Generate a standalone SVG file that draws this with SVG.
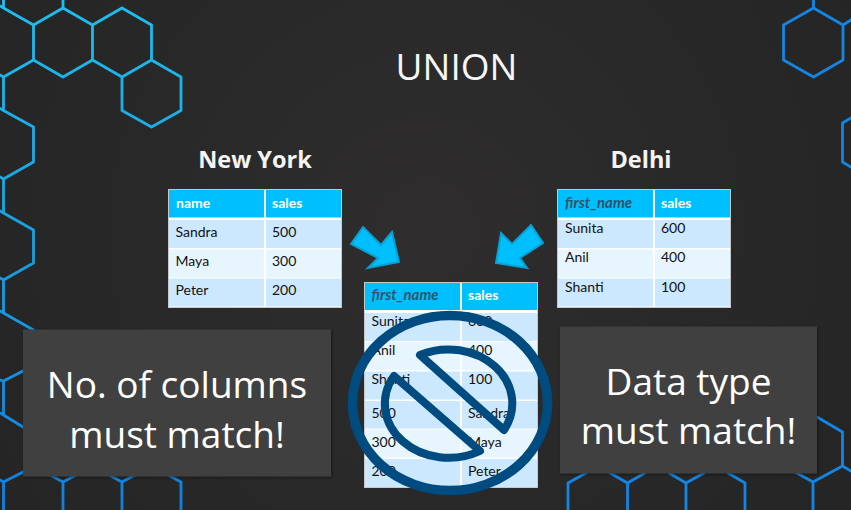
<svg xmlns="http://www.w3.org/2000/svg" width="851" height="510" viewBox="0 0 851 510">
<style>
text{font-family:"Lato","Open Sans","Liberation Sans",sans-serif}
.hex{fill:none;stroke-width:2.800;stroke-linejoin:round;stroke-linecap:round}
.head{fill:#00bfff}.a{fill:#cce8ff}.b{fill:#e7f5ff}
.frame{fill:#fff;stroke:#c8c8c8;stroke-width:1}
.h{font-size:14px;font-weight:700;fill:#fff}
.hi{font-size:15px;font-weight:700;font-style:italic;fill:#2f5468}
.c{font-size:14px;fill:#111}
.ttl{font-size:23.500px;font-weight:700;fill:#f4f4f4;text-anchor:middle;font-family:"Open Sans","Liberation Sans",sans-serif}
.big{font-size:37px;fill:#fff;text-anchor:middle;font-family:"Open Sans","Liberation Sans",sans-serif}
.arrow{fill:#00bfff;stroke:#0a9fd0;stroke-width:2;stroke-linejoin:miter}
.note{fill:#3f3f3f;filter:url(#sh)}
</style>
<defs>
<radialGradient id="bg" gradientUnits="userSpaceOnUse" cx="425" cy="230" r="500">
<stop offset="0" stop-color="#2f2d2d"/><stop offset="1" stop-color="#252525"/>
</radialGradient>
<linearGradient id="hexL" gradientUnits="userSpaceOnUse" x1="0" y1="0" x2="0" y2="510">
<stop offset="0" stop-color="#1fbdee"/><stop offset="0.5" stop-color="#189fdf"/><stop offset="1" stop-color="#127fe0"/>
</linearGradient>
<filter id="sh" x="-5%" y="-5%" width="110%" height="110%">
<feDropShadow dx="1" dy="1" stdDeviation="1.500" flood-color="#000" flood-opacity="0.45"/>
</filter>
</defs>
<rect width="851" height="510" fill="url(#bg)"/>
<g id="hexagons-left" class="hex" stroke="url(#hexL)">
<path d="M3.500,0V8L33.500,25L63,8V0M0,6L3.500,8M33.500,25V60L63,77L92.500,60V25L63,8L92.500,25L122,8L151.500,25V60L122,77V110.500L151.500,127L181,110.500V77L151.500,60L122,77L92.500,60M33.500,60L3.500,77V110.500L33.500,127V162L3.500,179V213L33.500,230V263L3.500,280V313L33.500,330M0,75L3.500,77M0,108.500L3.500,110.500M0,177L3.500,179M0,211L3.500,213M0,278L3.500,280M0,311L3.500,313"/>
<path d="M23,371L3.500,381V415L23,427M23,472L3.500,482V510M0,380L3.500,381M0,413L3.500,415M0,480L3.500,482M50,475L63,482V510M63,482L76,475M109,475L122,482V510M122,482L135,475M168,475L181,482V510"/>
</g>
<g id="hexagons-right" class="hex" stroke="#1485e2">
<path d="M813.500,0V8L843,25V60L813.500,77L783.500,60V25L813.500,8M843,25L851,20M851,118L842.500,123V162L851,167"/>
<path d="M586,473L568,483V510M610,473L627.500,483V510M627.500,483L645,473M669,473L686,483V510M686,483L704,473M728,473L745,483V510M795,472L813,482V510M813,482L842.500,466V432L817,417M842.500,466L851,471"/>
</g>
<g id="title"><text x="456.500" y="80" font-size="37" fill="#f6f6f6" text-anchor="middle" style="font-family:'Open Sans','Liberation Sans',sans-serif">UNION</text></g>
<g id="new-york">
<text class="ttl" x="255" y="168">New York</text>
<rect class="frame" x="168.500" y="189.500" width="173" height="118"/>
<rect class="head" x="169" y="190" width="95" height="27.500"/><rect class="head" x="266" y="190" width="75" height="27.500"/>
<rect class="a" x="169" y="220" width="95" height="28"/><rect class="a" x="266" y="220" width="75" height="28"/>
<rect class="b" x="169" y="249.500" width="95" height="28"/><rect class="b" x="266" y="249.500" width="75" height="28"/>
<rect class="a" x="169" y="278.500" width="95" height="28"/><rect class="a" x="266" y="278.500" width="75" height="28"/>
<text class="h" x="176" y="208">name</text><text class="h" x="272" y="208">sales</text>
<text class="c" x="175.500" y="237">Sandra</text><text class="c" x="272" y="237">500</text>
<text class="c" x="175.500" y="266">Maya</text><text class="c" x="272" y="266">300</text>
<text class="c" x="175.500" y="295">Peter</text><text class="c" x="272" y="295">200</text>
</g>
<g id="delhi">
<text class="ttl" x="641" y="168">Delhi</text>
<rect class="frame" x="557.500" y="189.500" width="173" height="118"/>
<rect class="head" x="558" y="190" width="95" height="27.500"/><rect class="head" x="655" y="190" width="75" height="27.500"/>
<rect class="a" x="558" y="220" width="95" height="28"/><rect class="a" x="655" y="220" width="75" height="28"/>
<rect class="b" x="558" y="249.500" width="95" height="28"/><rect class="b" x="655" y="249.500" width="75" height="28"/>
<rect class="a" x="558" y="278.500" width="95" height="28"/><rect class="a" x="655" y="278.500" width="75" height="28"/>
<text class="hi" x="565" y="208">first_name</text><text class="h" x="661" y="208">sales</text>
<text class="c" x="565" y="233">Sunita</text><text class="c" x="661" y="233">600</text>
<text class="c" x="565" y="262">Anil</text><text class="c" x="661" y="262">400</text>
<text class="c" x="565" y="292">Shanti</text><text class="c" x="661" y="292">100</text>
</g>
<g id="connectors">
<path class="arrow" d="M351,244L363,227L381,245L392,232L399,262L368,268L378,258Z"/>
<path class="arrow" d="M496,263L501,233L512,244L531,225L543,243L520,258L527,268Z"/>
</g>
<g id="union-result">
<rect class="frame" x="364.500" y="282.500" width="173" height="205"/>
<rect class="head" x="365" y="283" width="95" height="27"/><rect class="head" x="462" y="283" width="75" height="27"/>
<rect class="a" x="365" y="313" width="95" height="28"/><rect class="a" x="462" y="313" width="75" height="28"/>
<rect class="b" x="365" y="342" width="95" height="28"/><rect class="b" x="462" y="342" width="75" height="28"/>
<rect class="a" x="365" y="371.500" width="95" height="28"/><rect class="a" x="462" y="371.500" width="75" height="28"/>
<rect class="a" x="365" y="401" width="95" height="27.500"/><rect class="a" x="462" y="401" width="75" height="27.500"/>
<rect class="b" x="365" y="429.500" width="95" height="28"/><rect class="b" x="462" y="429.500" width="75" height="28"/>
<rect class="a" x="365" y="459" width="95" height="28"/><rect class="a" x="462" y="459" width="75" height="28"/>
<text class="hi" x="371.500" y="300">first_name</text><text class="h" x="468" y="300">sales</text>
<text class="c" x="371.500" y="326">Sunita</text><text class="c" x="468" y="326">600</text>
<text class="c" x="371.500" y="355">Anil</text><text class="c" x="468" y="355">400</text>
<text class="c" x="371.500" y="384">Shanti</text><text class="c" x="468" y="384">100</text>
<text class="c" x="371.500" y="418">500</text><text class="c" x="468" y="418">Sandra</text>
<text class="c" x="371.500" y="447">300</text><text class="c" x="468" y="447">Maya</text>
<text class="c" x="371.500" y="476">200</text><text class="c" x="468" y="476">Peter</text>
</g>
<g id="no-symbol" fill="none" stroke="#004b80" stroke-linejoin="round">
<ellipse cx="450" cy="403" rx="97.500" ry="87.500" stroke-width="9.500"/>
<path stroke-width="8" d="M420,355A64,54 0 0 1 504,430Z"/>
<path stroke-width="8" d="M394,376A64,54 0 0 0 480,451Z"/>
</g>
<g id="note-columns">
<rect class="note" x="23" y="329.500" width="308" height="147"/>
<text class="big" x="177" y="398">No. of columns</text>
<text class="big" x="177" y="448">must match!</text>
</g>
<g id="note-datatype">
<rect class="note" x="560" y="326.500" width="257" height="147"/>
<text class="big" x="688.500" y="395">Data type</text>
<text class="big" x="688.500" y="444">must match!</text>
</g>
</svg>
